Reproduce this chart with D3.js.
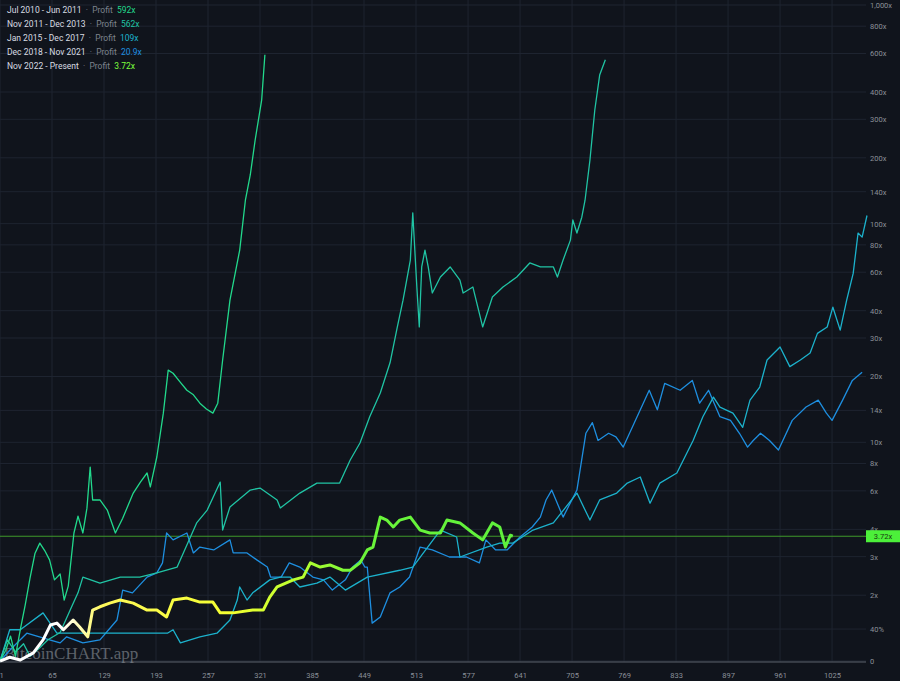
<!DOCTYPE html>
<html><head><meta charset="utf-8">
<script src="https://cdn.jsdelivr.net/npm/d3@7"></script>
<style>body{margin:0;background:#10141c}svg{display:block}</style>
</head><body><svg id="c" width="900" height="681"></svg>
<script>
const xTicks=[1,65,129,193,257,321,385,449,513,577,641,705,769,833,897,961,1025];
const yTicks=[1,1.4,2,3,4,6,8,10,14,20,30,40,60,80,100,140,200,300,400,600,800,1000];
const yTickLabels=["0","40%","2x","3x","4x","6x","8x","10x","14x","20x","30x","40x","60x","80x","100x","140x","200x","300x","400x","600x","800x","1,000x"];
const seriesNames=["Jul 2010 - Jun 2011","Nov 2011 - Dec 2013","Jan 2015 - Dec 2017","Dec 2018 - Nov 2021","Nov 2022 - Present"];
const seriesProfit=["592x","562x","109x","20.9x","3.72x"];
const seriesColors=["#22d98c","#20c4a4","#1cb2cc","#1e8fe0","#7cff3c"];

const s1Days=[1,8,14,20,26,32,38,44,50,56,62,68,75,80,85,92,97,103,108,112,115,124,133,143,152,165,174,182,186,194,202,208,214,222,231,239,247,255,263,269,275,284,296,303,309,315,323,327];
const s1Vals=[1,1.12,1.3,1.05,1.39,1.8,2.4,3.1,3.46,3.2,2.9,2.35,2.5,1.9,2.2,3.85,4.6,3.85,5.0,7.71,5.45,5.45,4.9,3.85,4.5,5.86,6.6,7.24,6.25,8.57,13.6,21.4,20.7,19.0,17.3,16.5,15.1,14.2,13.6,15.1,23.8,44.7,75.7,128,167,241,367,592];

const s2Days=[1,10,20,30,38,50,60,75,90,97,103,124,149,173,194,219,243,256,272,275,284,309,321,342,346,370,391,407,419,432,444,456,469,481,490,497,506,509,514,517,520,524,528,533,543,555,567,571,583,595,607,620,637,653,666,682,687,694,703,706,711,717,721,727,733,739,746];
const s2Vals=[1,1.25,1.1,1.2,1.05,1.15,1.25,1.35,1.8,2.05,2.42,2.27,2.42,2.42,2.53,2.69,4.28,4.9,6.58,3.97,5.06,6.05,6.18,5.45,5.01,5.86,6.51,6.51,6.51,8.3,9.93,13.1,16.8,23.1,33.7,44.7,68.2,112,51.3,33.7,63.4,75.7,63.4,48.2,57.0,63.4,55.2,48.2,51.3,33.7,46.2,51.3,57.0,66.1,63.4,63.4,57.0,68.2,84.1,104,90.6,107,128,195,331,478,562];

const s3Days=[1,13,26,54,71,87,103,124,149,186,207,214,223,247,268,284,293,296,305,312,333,346,358,370,391,407,426,453,493,509,543,563,567,600,616,632,657,682,711,727,739,760,773,789,801,813,834,854,866,879,887,903,915,924,936,945,961,973,986,998,1007,1019,1026,1035,1043,1051,1057,1062,1068];
const s3Vals=[1,1.39,1.39,1.66,1.34,1.34,1.34,1.34,1.34,1.34,1.34,1.39,1.21,1.29,1.34,1.54,1.9,2.18,1.9,2.05,2.35,2.42,2.42,2.18,2.27,2.42,2.11,2.42,2.6,2.69,3.97,3.69,2.99,3.32,3.46,3.46,3.97,4.28,5.86,4.41,5.45,5.86,6.51,6.94,5.27,6.51,7.24,10.2,13.1,16.1,14.5,13.6,11.7,15.6,17.9,23.8,27.3,22.2,23.8,25.6,31.5,33.7,41.5,32.6,44.7,59.2,90.6,86.8,109];

const s4Days=[1,13,34,62,75,83,103,124,145,152,164,182,194,201,206,214,231,239,247,264,284,288,305,317,330,334,347,357,370,386,399,410,426,435,445,450,453,459,469,481,493,505,518,533,554,575,591,599,611,625,641,656,666,673,680,694,711,722,730,737,750,759,768,789,800,810,819,838,853,862,873,887,900,911,921,928,937,948,959,976,993,1008,1018,1025,1038,1050,1062];
const s4Vals=[1,1.12,1.34,1.25,1.21,1.29,1.21,1.25,1.54,2.11,2.05,2.42,2.53,2.81,3.85,3.58,3.85,3.12,3.32,3.22,3.58,3.12,3.12,2.9,2.69,2.42,2.42,2.81,2.69,2.42,2.35,2.11,2.35,2.69,2.9,2.69,2.69,1.49,1.59,2.05,2.18,2.42,3.32,3.22,2.99,2.99,2.81,3.58,3.22,3.22,3.69,4.1,4.55,5.45,6.05,4.55,6.05,11.0,12.3,10.2,11.0,10.6,9.51,14.1,17.3,14.1,18.6,17.3,19.2,15.1,17.3,13.1,12.6,11.0,9.51,10.2,11.0,10.2,9.22,12.6,14.5,15.6,13.6,12.6,15.6,19.2,20.9];

const s5Days=[1,13,26,42,54,63,71,79,91,99,109,115,124,136,149,165,182,194,206,214,231,247,263,272,288,312,325,333,342,362,374,383,395,407,423,432,444,453,460,469,477,485,493,506,518,530,543,551,567,583,595,607,616,623,629,632];
const s5Vals=[1,1.04,1.01,1.09,1.25,1.46,1.49,1.39,1.54,1.43,1.29,1.71,1.77,1.84,1.9,1.84,1.71,1.71,1.59,1.9,1.94,1.86,1.86,1.66,1.66,1.71,1.71,1.96,2.18,2.35,2.42,2.81,2.69,2.75,2.6,2.6,2.81,3.22,3.32,4.55,4.41,4.1,4.41,4.55,3.97,3.85,3.85,4.41,4.28,3.85,3.58,4.28,4.1,3.32,3.76,3.72];

const current=3.72;

const svg=d3.select("#c");
svg.append("rect").attr("width",900).attr("height",681).attr("fill","#10141c");
const x=d3.scaleLinear().domain([1,1068]).range([0,867]);
const y=d3.scaleLog().domain([1,1000]).range([661,5]);
const plotRight=866;

const g=svg.append("g");
g.selectAll(".vg").data(xTicks).join("line").attr("x1",d=>x(d)).attr("x2",d=>x(d)).attr("y1",0).attr("y2",662).attr("stroke","#1e2430").attr("stroke-width",1);
g.selectAll(".hg").data(yTicks).join("line").attr("x1",0).attr("x2",plotRight).attr("y1",d=>y(d)).attr("y2",d=>y(d)).attr("stroke","#1e2430").attr("stroke-width",1);
svg.append("line").attr("x1",0).attr("x2",plotRight).attr("y1",662).attr("y2",662).attr("stroke","#5a606a");

const ya=d3.axisRight(y).tickValues(yTicks).tickFormat((d,i)=>yTickLabels[i]).tickSize(0).tickPadding(4);
svg.append("g").attr("transform","translate("+plotRight+",0)").call(ya)
 .call(a=>a.select(".domain").remove())
 .call(a=>a.selectAll("text").attr("fill","#8b9099").attr("font-size",7.5).attr("font-family","Roboto, sans-serif"));
const xa=d3.axisBottom(x).tickValues(xTicks).tickFormat(d3.format("d")).tickSize(0).tickPadding(6);
svg.append("g").attr("transform","translate(0,667)").call(xa)
 .call(a=>a.select(".domain").remove())
 .call(a=>a.selectAll("text").attr("fill","#8b9099").attr("font-size",7.5).attr("font-family","Roboto, sans-serif"))
 .call(a=>a.selectAll("text").filter(d=>d===1).attr("text-anchor","start").attr("dx",-1));

svg.append("text").attr("x",4).attr("y",659).text("BitcoinCHART.app").attr("fill","#9aa0a8").attr("opacity",0.55)
 .attr("font-family","Liberation Serif, serif").attr("font-size",17);

svg.append("line").attr("x1",0).attr("x2",plotRight).attr("y1",y(current)).attr("y2",y(current)).attr("stroke","#3f9a2a").attr("stroke-width",1);

const line=d3.line().x(d=>x(d[0])).y(d=>y(d[1]));
const sets=[[s1Days,s1Vals],[s2Days,s2Vals],[s3Days,s3Vals],[s4Days,s4Vals]];
[3,2,1,0].forEach(i=>{
  svg.append("path").attr("d",line(d3.zip(sets[i][0],sets[i][1]))).attr("fill","none").attr("stroke",seriesColors[i]).attr("stroke-width",1.3).attr("stroke-linejoin","round");
});
const grad=svg.append("defs").append("linearGradient").attr("id","gr").attr("gradientUnits","userSpaceOnUse")
 .attr("x1",x(1)).attr("x2",x(632)).attr("y1",0).attr("y2",0);
[[0,"#ffffff"],[0.12,"#ffffff"],[0.2,"#fff95a"],[0.45,"#f4ff30"],[0.6,"#b0ff30"],[0.7,"#6cf63a"],[1,"#5ef03c"]].forEach(s=>grad.append("stop").attr("offset",s[0]).attr("stop-color",s[1]));
svg.append("path").attr("d",line(d3.zip(s5Days,s5Vals))).attr("fill","none").attr("stroke","url(#gr)").attr("stroke-width",3).attr("stroke-linejoin","round");

svg.append("rect").attr("x",plotRight).attr("y",y(current)-6).attr("width",34).attr("height",12).attr("fill","#4cf03a");
svg.append("text").attr("x",883).attr("y",y(current)+3).attr("text-anchor","middle").text(current+"x").attr("font-size",7.5).attr("fill","#1a3a10").attr("font-family","Roboto, sans-serif");

const lg=svg.append("g").attr("font-family","Roboto, sans-serif").attr("font-size",8.5);
seriesNames.forEach((n,i)=>{
  const t=lg.append("text").attr("x",7).attr("y",13+i*14);
  t.append("tspan").text(n).attr("fill","#d8dce2");
  t.append("tspan").text("  ·  Profit  ").attr("fill","#7d838c").attr("xml:space","preserve");
  t.append("tspan").text(seriesProfit[i]).attr("fill",seriesColors[i]);
});
</script></body></html>
